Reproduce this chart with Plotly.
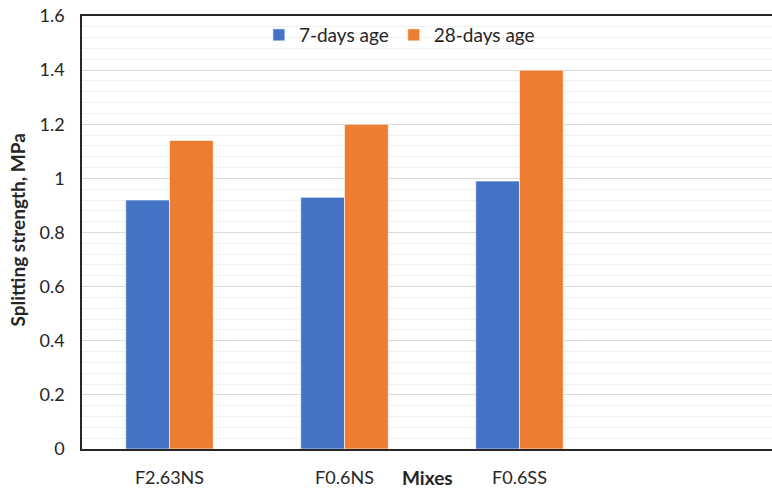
import plotly.graph_objects as go

categories = ["F2.63NS", "F0.6NS", "F0.6SS"]
days7 = [0.92, 0.93, 0.99]
days28 = [1.14, 1.20, 1.40]
series_names = ["7-days age", "28-days age"]
colors = ["#4472C4", "#ED7D31"]
y_ticks = [0, 0.2, 0.4, 0.6, 0.8, 1, 1.2, 1.4, 1.6]

FONT = "Lato"

fig = go.Figure()
for name, vals, c in zip(series_names, [days7, days28], colors):
    fig.add_trace(go.Bar(x=categories, y=vals, name=name,
                         marker=dict(color=c, line=dict(color="white", width=0.6))))

fig.update_layout(
    width=772, height=490,
    margin=dict(l=82, r=0, t=16, b=41),
    paper_bgcolor="white", plot_bgcolor="white",
    barmode="group", bargap=0.5, bargroupgap=0.0,
    font=dict(family=FONT, size=17, color="#262626"),
    showlegend=True,
    legend=dict(orientation="h", x=0.46, xanchor="center", y=1.0, yanchor="top",
                font=dict(size=19, color="#262626"), bgcolor="rgba(0,0,0,0)",
                tracegroupgap=0),
    xaxis=dict(type="category", categoryorder="array", categoryarray=categories,
               range=[-0.5, 3.443], showline=True, linecolor="#262626", linewidth=1.5,
               mirror=True, ticks="outside", ticklen=12, tickcolor="rgba(0,0,0,0)",
               showgrid=False, tickfont=dict(size=18)),
    yaxis=dict(range=[0, 1.6], tickvals=y_ticks, ticktext=[f"{v:g}" for v in y_ticks],
               showline=True, linecolor="#262626", linewidth=1.5, mirror=False,
               ticks="outside", ticklen=12, tickcolor="rgba(0,0,0,0)",
               showgrid=True, gridcolor="#d9d9d9", gridwidth=1, zeroline=False,
               minor=dict(dtick=0.04, showgrid=True, gridcolor="#f0f0f0", gridwidth=1),
               tickfont=dict(size=18)),
    annotations=[
        dict(text="<b>Mixes</b>", xref="paper", yref="paper", x=0.5, y=-0.095,
             xanchor="center", yanchor="bottom", showarrow=False, borderpad=0,
             font=dict(size=19)),
        dict(text="<b>Splitting strength, MPa</b>", xref="paper", yref="paper",
             x=-0.094, y=0.505, xanchor="center", yanchor="middle", textangle=-90,
             showarrow=False, font=dict(size=19)),
    ],
)

fig.write_html("out.html", config={"displayModeBar": False},
               post_script="document.body.style.margin='0';")
